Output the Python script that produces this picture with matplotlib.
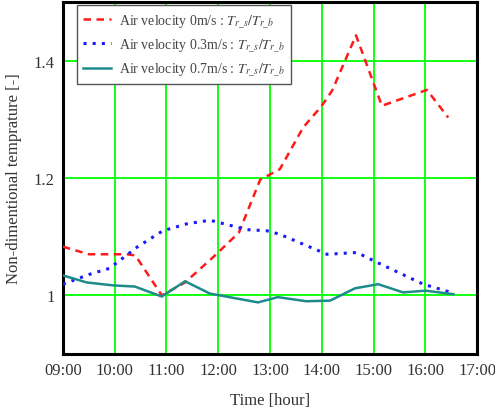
import matplotlib
matplotlib.use("Agg")
import matplotlib.pyplot as plt

plt.rcParams['font.family'] = ['Liberation Serif', 'DejaVu Serif']
plt.rcParams['mathtext.fontset'] = 'stix'

# Data (time in hours)
t_red = [9.0, 9.5, 10.24, 10.4, 10.91, 11.36, 11.9, 12.4, 12.81, 13.19, 13.64, 14.0, 14.2, 14.66, 15.16, 16.03, 16.44]
v_red = [1.083, 1.07, 1.07, 1.068, 1.0, 1.022, 1.065, 1.107, 1.197, 1.215, 1.286, 1.323, 1.349, 1.443, 1.323, 1.35, 1.303]

t_blue = [9.0, 9.52, 9.9, 10.43, 10.93, 11.4, 11.84, 12.55, 12.94, 13.19, 14.1, 14.68, 15.07, 15.96, 16.5]
v_blue = [1.019, 1.036, 1.046, 1.082, 1.11, 1.122, 1.128, 1.112, 1.11, 1.104, 1.07, 1.073, 1.056, 1.019, 1.005]

t_teal = [9.0, 9.46, 9.97, 10.39, 10.91, 11.36, 11.84, 12.77, 13.15, 13.7, 14.16, 14.64, 15.09, 15.57, 16.0, 16.54]
v_teal = [1.034, 1.022, 1.017, 1.015, 0.998, 1.024, 1.003, 0.988, 0.997, 0.99, 0.991, 1.012, 1.019, 1.005, 1.008, 1.002]

x_ticks = [9, 10, 11, 12, 13, 14, 15, 16, 17]
x_labels = ["09:00", "10:00", "11:00", "12:00", "13:00", "14:00", "15:00", "16:00", "17:00"]
y_ticks = [1.0, 1.2, 1.4]
y_labels = ["1", "1.2", "1.4"]

labels = [r"Air velocity 0m/s : $T_{r\_s}/T_{r\_b}$",
          r"Air velocity 0.3m/s : $T_{r\_s}/T_{r\_b}$",
          r"Air velocity 0.7m/s : $T_{r\_s}/T_{r\_b}$"]

fig = plt.figure(figsize=(4.95, 4.1), dpi=100)
ax = fig.add_axes([0.127, 0.134, 0.837, 0.859])

ax.grid(True, color='#00ff00', linewidth=1.3, zorder=0)
ax.set_axisbelow(True)

ax.plot(t_red, v_red, color='#ff1a1a', linestyle=(0, (3, 2.2)), linewidth=1.8, label=labels[0], zorder=3)
ax.plot(t_blue, v_blue, color='#1a1aff', linestyle=(0, (1, 2)), linewidth=2.2, label=labels[1], zorder=3)
ax.plot(t_teal, v_teal, color='#1f8a8a', linestyle='-', linewidth=1.8, label=labels[2], zorder=3)

ax.set_xlim(9, 17)
ax.set_ylim(0.9, 1.5)
ax.set_xticks(x_ticks)
ax.set_xticklabels(x_labels)
ax.set_yticks(y_ticks)
ax.set_yticklabels(y_labels)
ax.tick_params(length=0, labelsize=12, pad=6, colors='#333333')

for s in ax.spines.values():
    s.set_linewidth(2.2)
    s.set_color('black')

ax.set_xlabel("Time [hour]", fontsize=12, labelpad=10, color='#333333')
ax.set_ylabel("Non-dimentional temprature [-]", fontsize=12, labelpad=8, color='#333333')

leg = ax.legend(loc='upper left', bbox_to_anchor=(0.033, 0.99), fontsize=10, fancybox=False,
                framealpha=1, edgecolor='#555555', handlelength=2.0, handletextpad=0.6,
                borderpad=0.45, labelspacing=0.45, borderaxespad=0)
leg.get_frame().set_linewidth(1.0)
for txt in leg.get_texts():
    txt.set_color('#444444')

fig.savefig("out.png", dpi=100)
